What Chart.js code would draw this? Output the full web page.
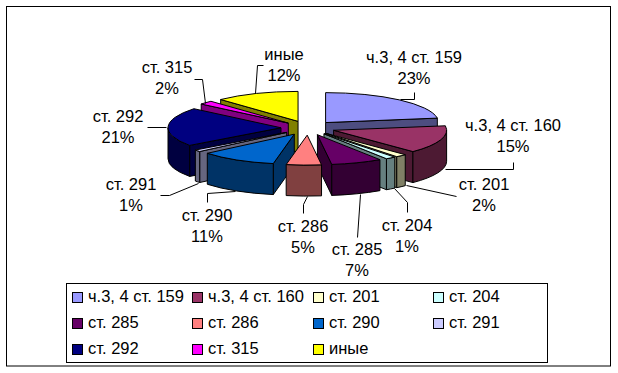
<!DOCTYPE html>
<html>
<head>
<meta charset="utf-8">
<style>
  html, body { margin: 0; padding: 0; background: #fff; }
  canvas { display: block; }
</style>
<script src="https://cdn.jsdelivr.net/npm/chart.js@4/dist/chart.umd.js"></script>
</head>
<body>
<canvas id="chart" width="618" height="373"></canvas>
<script>
const categories = ["ч.3, 4 ст. 159", "ч.3, 4 ст. 160", "ст. 201", "ст. 204", "ст. 285", "ст. 286", "ст. 290", "ст. 291", "ст. 292", "ст. 315", "иные"];
const values = [22.6, 15, 1.6, 1.45, 7.3, 5, 11, 1, 21, 2, 12];
const topColors = ["#9999FF", "#993366", "#FFFFCC", "#CCFFFF", "#660066", "#FF8080", "#0066CC", "#CCCCFF", "#000080", "#FF00FF", "#FFFF00"];
const sideColors = ["#4D4D80", "#4D1A33", "#808066", "#668080", "#330033", "#804040", "#003366", "#666680", "#000040", "#800080", "#808000"];

// label centre (x, first line y) for each slice
const labelSpots = [[414, 58], [513, 126], [484, 185], [407, 226], [357, 250], [303, 227], [207, 216], [131, 185], [118, 117], [167, 68], [284, 55]];
// leader lines
const leaders = [
  [[400, 99], [414, 99], [414, 92]],
  [[445, 169], [513, 169], [513, 162]],
  [[406, 185], [456, 196]],
  [[394, 188], [407, 202], [407, 212]],
  [[360, 194], [357, 237]],
  [[307, 196], [303, 204], [303, 213]],
  [[235, 191], [207, 193], [207, 202]],
  [[198, 183], [169, 195], [160, 195]],
  [[166, 127], [147, 127]],
  [[205, 103], [202, 79], [194, 79]],
  [[255, 93], [257, 65], [263, 65]]
];

const FONT = '16.5px "Liberation Sans", Arial, sans-serif';
const FLATTEN = 0.265;
const EXPLODE = 27;
const DEPTH = 31;

function drawSlice(ctx, arc, i) {
  const mid = (arc.startAngle + arc.endAngle) / 2;
  const rx = arc.outerRadius;
  const ry = rx * FLATTEN;
  const cx = arc.x + Math.cos(mid) * EXPLODE;
  const cy = arc.y + Math.sin(mid) * EXPLODE * FLATTEN;
  const a1 = arc.startAngle;
  const a2 = arc.endAngle;

  ctx.strokeStyle = "#000";
  ctx.lineWidth = 1;
  ctx.lineJoin = "round";

  // radial walls, only the ones facing the viewer
  const wall = (a) => {
    const px = cx + Math.cos(a) * rx;
    const py = cy + Math.sin(a) * ry;
    ctx.beginPath();
    ctx.moveTo(cx, cy);
    ctx.lineTo(px, py);
    ctx.lineTo(px, py + DEPTH);
    ctx.lineTo(cx, cy + DEPTH);
    ctx.closePath();
    ctx.fillStyle = sideColors[i];
    ctx.fill();
    ctx.stroke();
  };
  if (-Math.cos(a1) > 0) wall(a1);
  if (Math.cos(a2) > 0) wall(a2);

  // outer wall, front half of the rim only
  const from = Math.max(a1, 0);
  const to = Math.min(a2, Math.PI);
  if (to > from) {
    ctx.beginPath();
    ctx.ellipse(cx, cy, rx, ry, 0, from, to);
    ctx.ellipse(cx, cy + DEPTH, rx, ry, 0, to, from, true);
    ctx.closePath();
    ctx.fillStyle = sideColors[i];
    ctx.fill();
    ctx.stroke();
  }

  // top
  ctx.beginPath();
  ctx.moveTo(cx, cy);
  ctx.ellipse(cx, cy, rx, ry, 0, a1, a2);
  ctx.closePath();
  ctx.fillStyle = arc.options.backgroundColor;
  ctx.fill();
  ctx.stroke();
}

const pie3d = {
  id: "pie3d",
  beforeDatasetsDraw(chart) {
    const ctx = chart.ctx;
    const arcs = chart.getDatasetMeta(0).data;
    const order = arcs.map((a, i) => i).sort((p, q) => {
      const mp = (arcs[p].startAngle + arcs[p].endAngle) / 2;
      const mq = (arcs[q].startAngle + arcs[q].endAngle) / 2;
      return Math.sin(mp) - Math.sin(mq);
    });
    ctx.save();
    order.forEach((i) => drawSlice(ctx, arcs[i], i));
    ctx.restore();
    return false;
  }
};

const frameAndLabels = {
  id: "frameAndLabels",
  beforeDraw(chart) {
    const ctx = chart.ctx;
    ctx.save();
    ctx.fillStyle = "#fff";
    ctx.fillRect(0, 0, chart.width, chart.height);
    ctx.strokeStyle = "#000";
    ctx.lineWidth = 1;
    ctx.strokeRect(6.5, 6.5, 604, 359.5);
    ctx.restore();
  },
  afterDraw(chart) {
    const ctx = chart.ctx;
    const total = values.reduce((s, v) => s + v, 0);
    ctx.save();
    ctx.strokeStyle = "#000";
    ctx.lineWidth = 1;
    leaders.forEach((pts) => {
      ctx.beginPath();
      pts.forEach((p, k) => (k ? ctx.lineTo(p[0] + 0.5, p[1] + 0.5) : ctx.moveTo(p[0] + 0.5, p[1] + 0.5)));
      ctx.stroke();
    });
    ctx.font = FONT;
    ctx.fillStyle = "#000";
    ctx.textAlign = "center";
    ctx.textBaseline = "middle";
    categories.forEach((name, i) => {
      const [x, y] = labelSpots[i];
      ctx.fillText(name, x, y);
      ctx.fillText(Math.round(values[i] / total * 100) + "%", x, y + 21);
    });

    // legend, 4 equal columns
    ctx.strokeRect(66.5, 283.5, 481, 79);
    ctx.textAlign = "left";
    categories.forEach((name, i) => {
      const col = i % 4;
      const row = Math.floor(i / 4);
      const x = 72 + col * 120.3;
      const y = 297 + row * 26;
      ctx.fillStyle = topColors[i];
      ctx.fillRect(Math.round(x) + 0.5, y - 4.5, 10, 10);
      ctx.strokeRect(Math.round(x) + 0.5, y - 4.5, 10, 10);
      ctx.fillStyle = "#000";
      ctx.fillText(name, Math.round(x) + 16, y);
    });
    ctx.restore();
  }
};

const canvas = document.getElementById("chart");
canvas.getContext("2d", { alpha: false });

new Chart(canvas, {
  type: "pie",
  data: {
    labels: categories,
    datasets: [{ data: values, backgroundColor: topColors, borderColor: "#000", borderWidth: 1 }]
  },
  options: {
    responsive: false,
    animation: false,
    radius: 113,
    layout: { padding: { left: 0, right: 2, top: 0, bottom: 117 } },
    plugins: { legend: { display: false }, tooltip: { enabled: false } }
  },
  plugins: [frameAndLabels, pie3d]
});
</script>
</body>
</html>
